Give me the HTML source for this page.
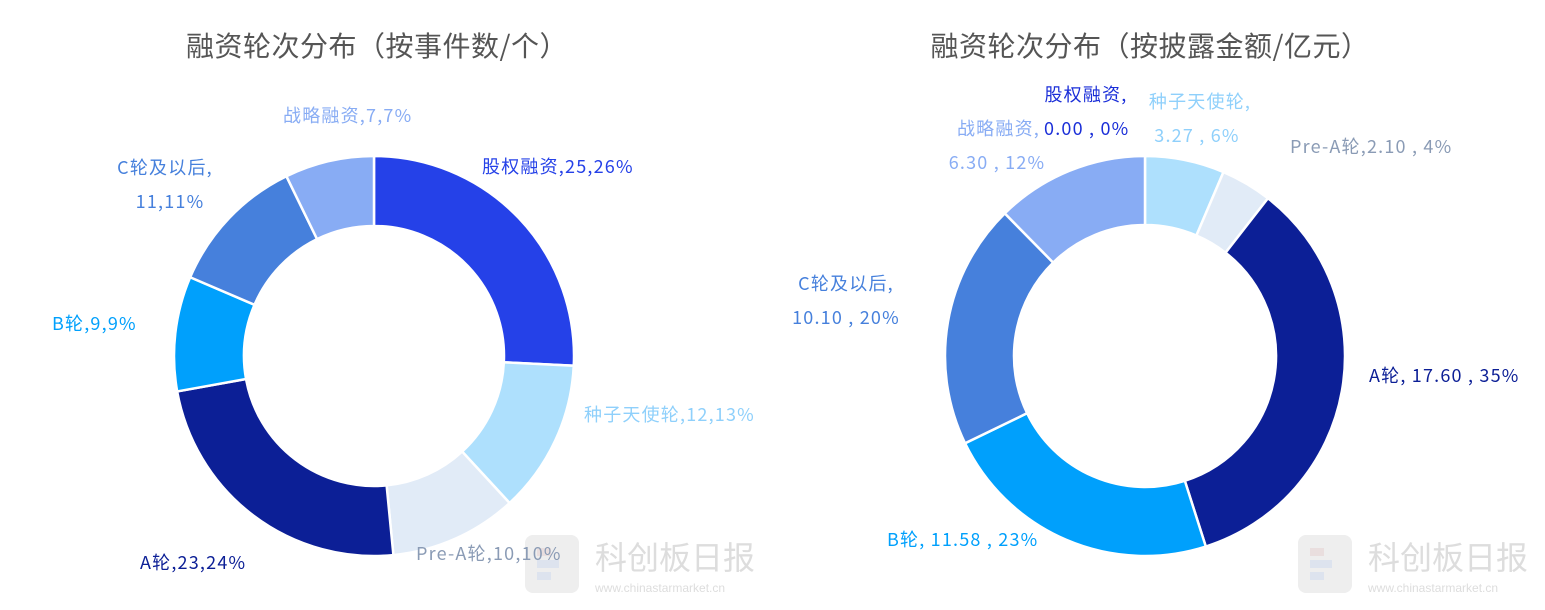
<!DOCTYPE html>
<html><head><meta charset="utf-8"><style>
body{margin:0;background:#fff;width:1545px;height:610px;overflow:hidden;font-family:"Noto Sans CJK SC","Liberation Sans",sans-serif}
svg{position:absolute;left:0;top:0;font-family:"Noto Sans CJK SC","Liberation Sans",sans-serif}
</style></head><body>
<svg width="1545" height="610">
<g id="wm"></g>
<text x="377" y="56" text-anchor="middle" font-size="28" letter-spacing="0.5" fill="#555">融资轮次分布（按事件数/个）</text>
<text x="1150" y="56" text-anchor="middle" font-size="28" letter-spacing="0.5" fill="#555">融资轮次分布（按披露金额/亿元）</text>
<g id="left"></g>
<g id="right"></g>
<g font-size="18" letter-spacing="1.2">
<text x="482" y="173" fill="#2541e8">股权融资,25,26%</text>
<text x="584" y="421" fill="#8fd0fb">种子天使轮,12,13%</text>
<text x="416" y="560" fill="#8a9bb5">Pre-A轮,10,10%</text>
<text x="140" y="569" fill="#0c1f96">A轮,23,24%</text>
<text x="52" y="330" fill="#00a0fc">B轮,9,9%</text>
<text x="165" y="174" text-anchor="middle" fill="#4680dc">C轮及以后,</text>
<text x="170" y="208" text-anchor="middle" fill="#4680dc">11,11%</text>
<text x="283" y="122" fill="#88acf4">战略融资,7,7%</text>
<text x="1086" y="101" text-anchor="middle" fill="#1a2ed8">股权融资,</text>
<text x="1044" y="135" fill="#1a2ed8">0.00 , 0%</text>
<text x="1040" y="135" text-anchor="end" fill="#88acf4">战略融资,</text>
<text x="997" y="169" text-anchor="middle" fill="#88acf4">6.30 , 12%</text>
<text x="1200" y="108" text-anchor="middle" fill="#8fd0fb">种子天使轮,</text>
<text x="1197" y="142" text-anchor="middle" fill="#8fd0fb">3.27 , 6%</text>
<text x="1290" y="153" fill="#8a9bb5">Pre-A轮,2.10 , 4%</text>
<text x="1369" y="382" fill="#0c1f96">A轮, 17.60 , 35%</text>
<text x="887" y="546" fill="#00a0fc">B轮, 11.58 , 23%</text>
<text x="846" y="290" text-anchor="middle" fill="#4680dc">C轮及以后,</text>
<text x="846" y="324" text-anchor="middle" fill="#4680dc">10.10 , 20%</text>
</g>
</svg>
<script>
const categories=['股权融资','种子天使轮','Pre-A轮','A轮','B轮','C轮及以后','战略融资'];
const countValues=[25,12,10,23,9,11,7];
const amountValues=[0,3.27,2.10,17.60,11.58,10.10,6.30];
const colors=['#2541e8','#aee0fd','#e1ebf7','#0c1f96','#00a0fc','#4680dc','#88acf4'];
const NS='http://www.w3.org/2000/svg';
function donut(g,vals,cx,cy,R,r){
  const tot=vals.reduce((a,b)=>a+b,0);let a0=0;
  vals.forEach((v,i)=>{
    if(v<=0)return;
    const a1=a0+v/tot*2*Math.PI;
    const p=(a,rr)=>[cx+rr*Math.sin(a),cy-rr*Math.cos(a)];
    const L=(a1-a0)>Math.PI?1:0;
    const [x1,y1]=p(a0,R),[x2,y2]=p(a1,R),[x3,y3]=p(a1,r),[x4,y4]=p(a0,r);
    const el=document.createElementNS(NS,'path');
    el.setAttribute('d',`M${x1},${y1}A${R},${R} 0 ${L} 1 ${x2},${y2}L${x3},${y3}A${r},${r} 0 ${L} 0 ${x4},${y4}Z`);
    el.setAttribute('fill',colors[i]);el.setAttribute('stroke','#fff');el.setAttribute('stroke-width','2.5');
    
    
    g.appendChild(el);a0=a1;
  });
}
donut(document.getElementById('left'),countValues,374,356,200,130);
donut(document.getElementById('right'),amountValues,1145,356,200,131);
const wm=document.getElementById('wm');
[525,1298].forEach(x=>{
  wm.insertAdjacentHTML('beforeend',`<rect x="${x}" y="535" width="54" height="58" rx="8" fill="#eee"/><rect x="${x+12}" y="548" width="14" height="8" fill="#e9dede"/><rect x="${x+12}" y="560" width="22" height="8" fill="#dde3ee"/><rect x="${x+12}" y="572" width="14" height="8" fill="#dde3ee"/><text x="${x+70}" y="569" font-size="32" fill="#ddd">科创板日报</text><text x="${x+70}" y="592" font-size="12" fill="#ddd" font-family="Liberation Sans">www.chinastarmarket.cn</text>`);
});
</script>
</body></html>
